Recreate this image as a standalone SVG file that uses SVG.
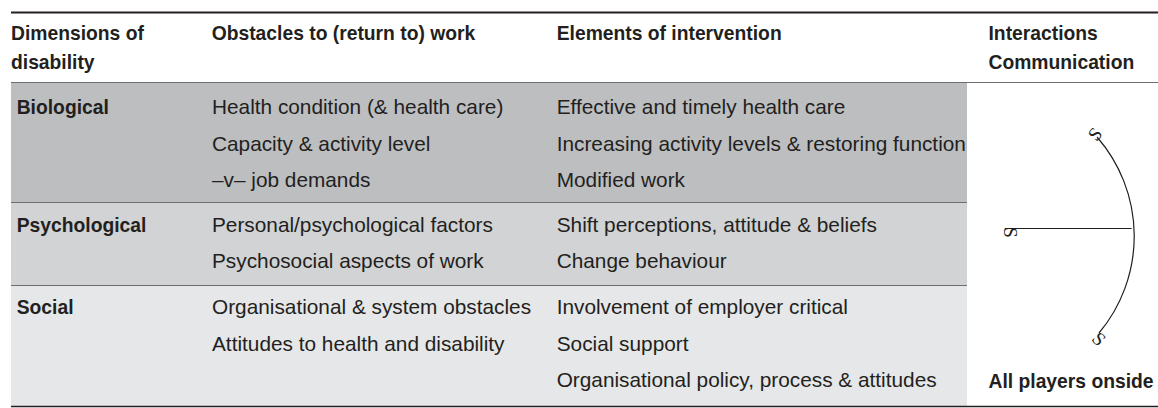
<svg xmlns="http://www.w3.org/2000/svg" width="1158" height="408" viewBox="0 0 1158 408">
<style>
.t{font-family:"Liberation Sans",Arial,sans-serif;font-size:20.8px;fill:#231f20}
.b{font-family:"Liberation Sans",Arial,sans-serif;font-size:19.3px;font-weight:bold;fill:#231f20}
.s{font-family:"Liberation Serif","Times New Roman",serif;font-size:19px;fill:#231f20;text-anchor:middle;dominant-baseline:central}
.rule{stroke:#231f20;fill:none}
.sep{stroke:#6d6e71;stroke-width:1.2;fill:none}
.conn{stroke:#231f20;stroke-width:1.2;fill:none}
</style>
<rect width="1158" height="408" fill="#ffffff"/>
<g id="header">
<line class="rule" x1="11" y1="12.5" x2="1158" y2="12.5" stroke-width="2"/>
<text class="b" x="11" y="39.5">Dimensions of</text>
<text class="b" x="11" y="68.5">disability</text>
<text class="b" x="211.7" y="39.5">Obstacles to (return to) work</text>
<text class="b" x="556.7" y="39.5">Elements of intervention</text>
<text class="b" x="988.5" y="39.5">Interactions</text>
<text class="b" x="988.5" y="68.5">Communication</text>
<line class="sep" x1="11" y1="82.5" x2="1158" y2="82.5" stroke-width="1.5"/>
</g>
<g id="row-biological">
<rect x="11" y="83" width="956" height="119.5" fill="#bcbec0"/>
<text class="b" x="16.7" y="114">Biological</text>
<text class="t" x="212" y="114">Health condition (&amp; health care)</text>
<text class="t" x="212" y="150.7">Capacity &amp; activity level</text>
<text class="t" x="212" y="187.3">–v– job demands</text>
<text class="t" x="556.7" y="114">Effective and timely health care</text>
<text class="t" x="556.7" y="150.7">Increasing activity levels &amp; restoring function</text>
<text class="t" x="556.7" y="187.3">Modified work</text>
</g>
<g id="row-psychological">
<rect x="11" y="202.5" width="956" height="83" fill="#d1d3d4"/>
<line class="sep" x1="11" y1="202.5" x2="967" y2="202.5"/>
<text class="b" x="16.7" y="231.7">Psychological</text>
<text class="t" x="212" y="231.7">Personal/psychological factors</text>
<text class="t" x="212" y="268.3">Psychosocial aspects of work</text>
<text class="t" x="556.7" y="231.7">Shift perceptions, attitude &amp; beliefs</text>
<text class="t" x="556.7" y="268.3">Change behaviour</text>
</g>
<g id="row-social">
<rect x="11" y="285.5" width="956" height="120.5" fill="#e6e7e8"/>
<line class="sep" x1="11" y1="285.5" x2="967" y2="285.5"/>
<text class="b" x="16.7" y="314">Social</text>
<text class="t" x="212" y="314">Organisational &amp; system obstacles</text>
<text class="t" x="212" y="350.7">Attitudes to health and disability</text>
<text class="t" x="556.7" y="314">Involvement of employer critical</text>
<text class="t" x="556.7" y="350.7">Social support</text>
<text class="t" x="556.7" y="387.3">Organisational policy, process &amp; attitudes</text>
</g>
<g id="players">
<text class="s" transform="translate(1010,232.5) rotate(90)">S</text>
<text class="s" transform="translate(1095,134) rotate(-50)">S</text>
<text class="s" transform="translate(1099,339) rotate(45)">S</text>
<text class="b" x="988.5" y="388">All players onside</text>
</g>
<g id="connectors">
<path class="conn" d="M1097,137 A150.7,150.7 0 0 1 1099,333"/>
<line class="conn" x1="1005" y1="228.5" x2="1131.6" y2="228.5"/>
</g>
<line class="rule" x1="11" y1="406.5" x2="1158" y2="406.5" stroke-width="1.5"/>
</svg>
